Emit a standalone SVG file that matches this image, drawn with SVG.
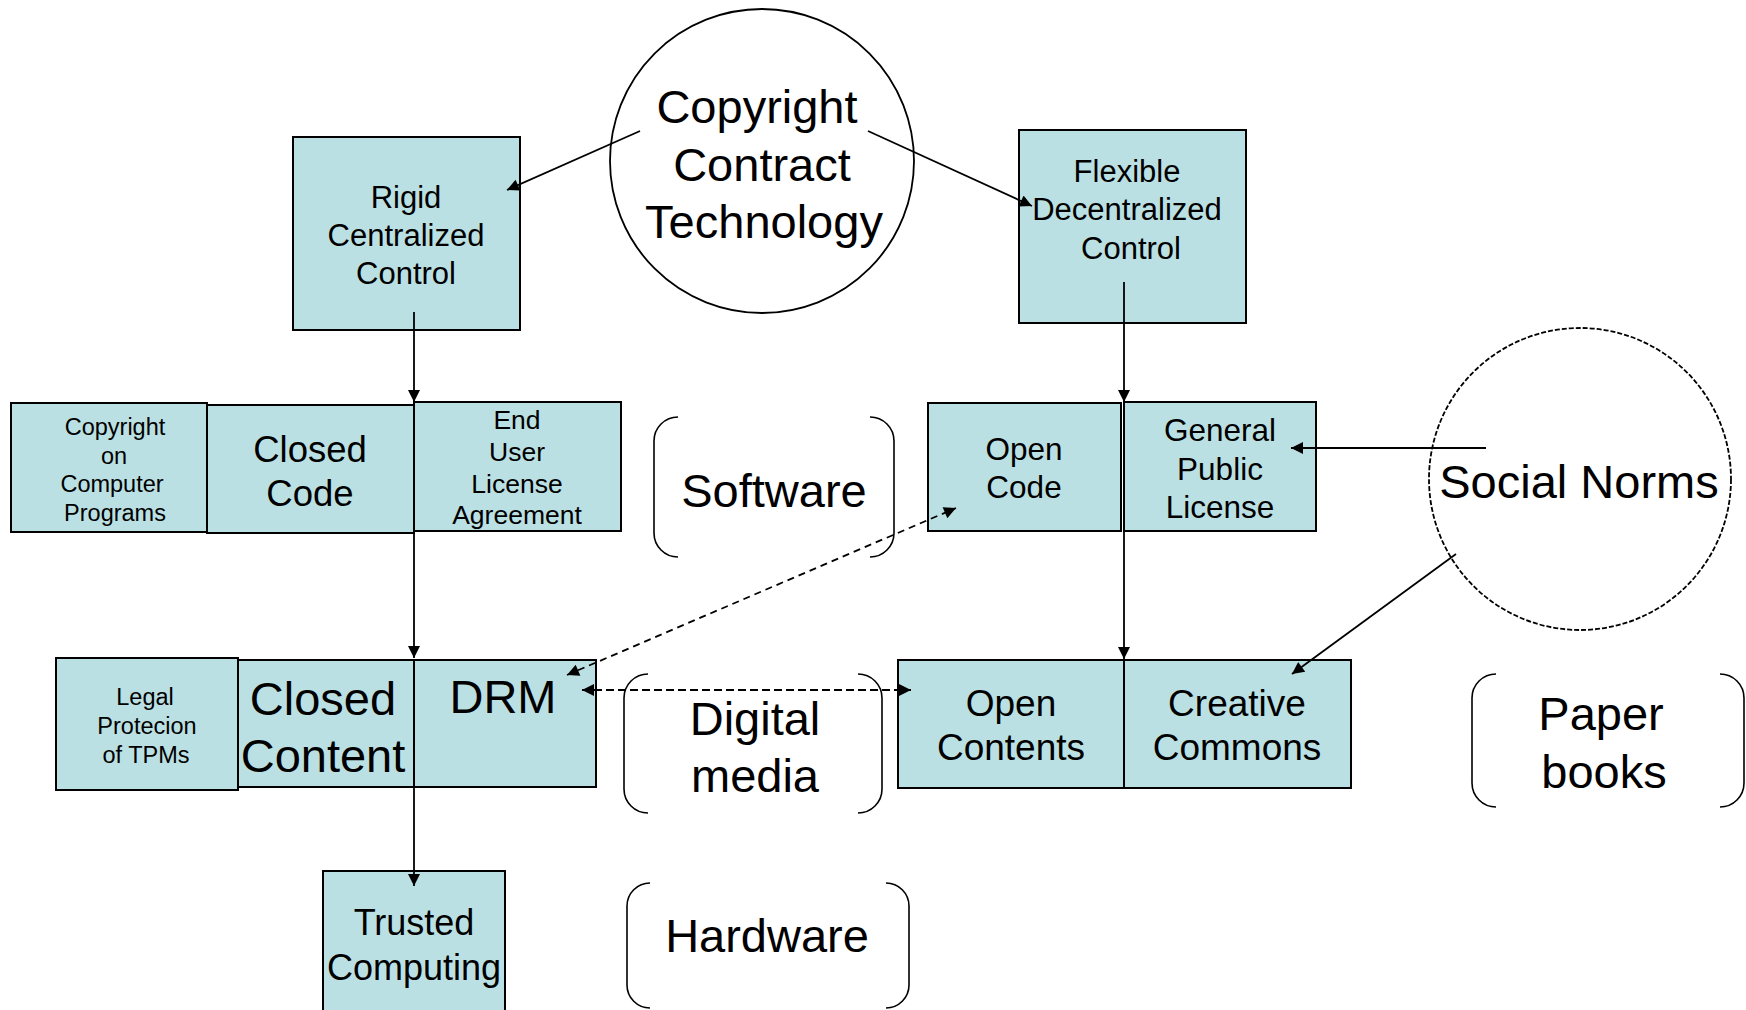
<svg xmlns="http://www.w3.org/2000/svg" width="1746" height="1010" viewBox="0 0 1746 1010">
<style>
.box{fill:#BBE0E3;stroke:#000;stroke-width:2}
.t{font-family:"Liberation Sans",Arial,sans-serif;fill:#000;text-anchor:middle}
.circ{fill:#fff;stroke:#000;stroke-width:1.8}
.br{fill:none;stroke:#000;stroke-width:1.6}
.ln{fill:none;stroke:#000;stroke-width:1.8}
</style>
<defs>
<marker id="ah" viewBox="0 0 10 10" refX="10" refY="5" markerWidth="14" markerHeight="12" markerUnits="userSpaceOnUse" orient="auto-start-reverse">
<path d="M0,0 L10,5 L0,10 Z" fill="#000"/>
</marker>
</defs>
<rect width="1746" height="1010" fill="#fff"/>

<g id="copyright-circle">
<circle class="circ" cx="762" cy="161" r="152"/>
<text class="t" font-size="47"><tspan x="757" y="123">Copyright</tspan><tspan x="762" y="181">Contract</tspan><tspan x="764" y="238">Technology</tspan></text>
</g>
<g id="rigid">
<rect class="box" x="293" y="137" width="227" height="193"/>
<text class="t" font-size="31"><tspan x="406" y="208">Rigid</tspan><tspan x="406" y="246">Centralized</tspan><tspan x="406" y="284">Control</tspan></text>
</g>
<g id="flexible">
<rect class="box" x="1019" y="130" width="227" height="193"/>
<text class="t" font-size="31"><tspan x="1127" y="182">Flexible</tspan><tspan x="1127" y="220">Decentralized</tspan><tspan x="1131" y="259">Control</tspan></text>
</g>
<g id="copyright-programs">
<rect class="box" x="11" y="403" width="196" height="129"/>
<text class="t" font-size="23.5"><tspan x="115" y="435">Copyright</tspan><tspan x="114" y="463.5">on</tspan><tspan x="112" y="492">Computer</tspan><tspan x="115" y="520.5">Programs</tspan></text>
</g>
<g id="closed-code">
<rect class="box" x="207" y="405" width="207" height="128"/>
<text class="t" font-size="36.5"><tspan x="310" y="462">Closed</tspan><tspan x="310" y="506">Code</tspan></text>
</g>
<g id="eula">
<rect class="box" x="414" y="402" width="207" height="129"/>
<text class="t" font-size="26.5"><tspan x="517" y="429">End</tspan><tspan x="517" y="461">User</tspan><tspan x="517" y="492.5">License</tspan><tspan x="517" y="524">Agreement</tspan></text>
</g>
<g id="software">
<path class="br" d="M678,417 A24,24 0 0 0 654,441 L654,533 A24,24 0 0 0 678,557 M870,417 A24,24 0 0 1 894,441 L894,533 A24,24 0 0 1 870,557"/>
<text class="t" font-size="47" x="774" y="507">Software</text>
</g>
<g id="legal">
<rect class="box" x="56" y="658" width="182" height="132"/>
<text class="t" font-size="23.5"><tspan x="145" y="705">Legal</tspan><tspan x="147" y="734">Protecion</tspan><tspan x="146" y="763">of TPMs</tspan></text>
</g>
<g id="closed-content">
<rect class="box" x="238" y="660" width="176" height="127"/>
<text class="t" font-size="47"><tspan x="323" y="715">Closed</tspan><tspan x="323" y="772">Content</tspan></text>
</g>
<g id="drm">
<rect class="box" x="414" y="660" width="182" height="127"/>
<text class="t" font-size="47" x="503" y="713">DRM</text>
</g>
<g id="digital-media">
<path class="br" d="M648,674 A24,24 0 0 0 624,698 L624,789 A24,24 0 0 0 648,813 M858,674 A24,24 0 0 1 882,698 L882,789 A24,24 0 0 1 858,813"/>
<text class="t" font-size="47"><tspan x="755" y="735">Digital</tspan><tspan x="755" y="792">media</tspan></text>
</g>
<g id="trusted">
<rect class="box" x="323" y="871" width="182" height="160"/>
<text class="t" font-size="36"><tspan x="414" y="935">Trusted</tspan><tspan x="414" y="980">Computing</tspan></text>
</g>
<g id="hardware">
<path class="br" d="M650,883 A23,23 0 0 0 627,906 L627,985 A23,23 0 0 0 650,1008 M886,883 A23,23 0 0 1 909,906 L909,985 A23,23 0 0 1 886,1008"/>
<text class="t" font-size="47" x="767" y="952">Hardware</text>
</g>
<g id="open-code">
<rect class="box" x="928" y="403" width="193" height="128"/>
<text class="t" font-size="31.5"><tspan x="1024" y="460">Open</tspan><tspan x="1024" y="498">Code</tspan></text>
</g>
<g id="gpl">
<rect class="box" x="1124" y="402" width="192" height="129"/>
<text class="t" font-size="31.5"><tspan x="1220" y="441">General</tspan><tspan x="1220" y="479.5">Public</tspan><tspan x="1220" y="518">License</tspan></text>
</g>
<g id="social-norms">
<circle class="circ" cx="1580" cy="479" r="151" stroke-dasharray="5 2" stroke-width="1.5"/>
<text class="t" font-size="47" x="1579" y="498">Social Norms</text>
</g>
<g id="open-contents">
<rect class="box" x="898" y="660" width="226" height="128"/>
<text class="t" font-size="37"><tspan x="1011" y="716">Open</tspan><tspan x="1011" y="760">Contents</tspan></text>
</g>
<g id="creative-commons">
<rect class="box" x="1124" y="660" width="227" height="128"/>
<text class="t" font-size="37"><tspan x="1237" y="716">Creative</tspan><tspan x="1237" y="760">Commons</tspan></text>
</g>
<g id="paper-books">
<path class="br" d="M1496,674 A24,24 0 0 0 1472,698 L1472,783 A24,24 0 0 0 1496,807 M1720,674 A24,24 0 0 1 1744,698 L1744,783 A24,24 0 0 1 1720,807"/>
<text class="t" font-size="47"><tspan x="1601" y="730">Paper</tspan><tspan x="1604" y="788">books</tspan></text>
</g>

<g id="connectors">
<line class="ln" x1="640" y1="131" x2="507" y2="190" marker-end="url(#ah)"/>
<line class="ln" x1="868" y1="131" x2="1032" y2="206" marker-end="url(#ah)"/>
<line class="ln" x1="414" y1="312" x2="414" y2="402" marker-end="url(#ah)"/>
<line class="ln" x1="414" y1="402" x2="414" y2="658" marker-end="url(#ah)"/>
<line class="ln" x1="414" y1="787" x2="414" y2="886" marker-end="url(#ah)"/>
<line class="ln" x1="1124" y1="282" x2="1124" y2="402" stroke-width="2.5" marker-end="url(#ah)"/>
<line class="ln" x1="1124" y1="402" x2="1124" y2="659" stroke-width="2.5" marker-end="url(#ah)"/>
<line class="ln" x1="1486" y1="448" x2="1291" y2="448" marker-end="url(#ah)"/>
<line class="ln" x1="1456" y1="554" x2="1292" y2="674" marker-end="url(#ah)"/>
<line class="ln" x1="567" y1="675" x2="956" y2="508" stroke-width="1.6" stroke-dasharray="7 5" marker-start="url(#ah)" marker-end="url(#ah)"/>
<line class="ln" x1="582" y1="690" x2="911" y2="690" stroke-width="2.8" stroke-dasharray="8 4" marker-start="url(#ah)" marker-end="url(#ah)"/>
</g>
</svg>
